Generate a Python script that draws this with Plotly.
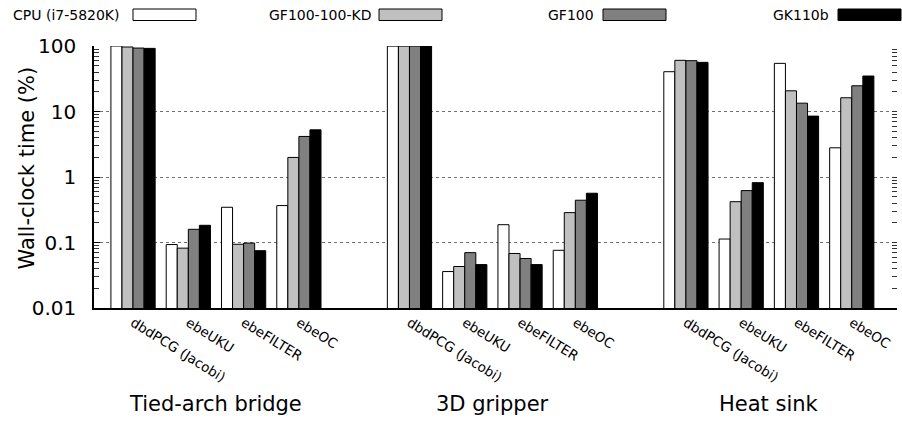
import plotly.graph_objects as go

# ---------------- data ----------------
groups = ["Tied-arch bridge", "3D gripper", "Heat sink"]
methods = ["dbdPCG (Jacobi)", "ebeUKU", "ebeFILTER", "ebeOC"]
series = ["CPU (i7-5820K)", "GF100-100-KD", "GF100", "GK110b"]
colors = ["#ffffff", "#c0c0c0", "#808080", "#000000"]

cpu   = [100.0, 0.093, 0.345, 0.366, 99.5, 0.036, 0.187, 0.076, 40.5, 0.113, 54.3, 2.79]
gf_kd = [96.5, 0.082, 0.094, 1.99, 99.5, 0.043, 0.068, 0.286, 60.4, 0.42, 20.7, 16.2]
gf100 = [93.0, 0.159, 0.098, 4.16, 99.5, 0.070, 0.057, 0.442, 59.7, 0.62, 13.4, 24.7]
gk110 = [92.0, 0.183, 0.075, 5.25, 100.0, 0.046, 0.046, 0.565, 56.3, 0.82, 8.5, 34.8]
values = [cpu, gf_kd, gf100, gk110]

ytick_vals = [0.01, 0.1, 1, 10, 100]
ytick_text = ["0.01", "0.1", "1", "10", "100"]

# ---------------- layout geometry ----------------
W, H = 902, 425
L, R, T, B = 94, 5, 46, 117
PW, PH = W - L - R, H - T - B
FONT = "DejaVu Sans"


def px(xp):
    return (xp - L) / PW


def py(yp):
    return (H - B - yp) / PH


# slot positions: groups separated by one empty slot
xpos = [g * (len(methods) + 1) + m for g in range(len(groups)) for m in range(len(methods))]
xlabels = [m for g in groups for m in methods]

fig = go.Figure()
for name, col, vals in zip(series, colors, values):
    fig.add_trace(go.Bar(
        x=xpos, y=vals, name=name,
        marker=dict(color=col, line=dict(color="#000000", width=1)),
        showlegend=False,
    ))

minor_vals = [m * 10 ** e for e in range(-2, 2) for m in range(2, 10)]

fig.update_layout(
    width=W, height=H,
    margin=dict(l=L, r=R, t=T, b=B, pad=0),
    paper_bgcolor="white", plot_bgcolor="white",
    barmode="group", bargap=0.2, bargroupgap=0,
    font=dict(family=FONT, color="#000000"),
    xaxis=dict(
        range=[-0.706, 13.818],
        tickmode="array", tickvals=xpos, ticktext=xlabels,
        tickangle=32, tickfont=dict(size=13.5, family=FONT),
        ticks="", showline=True, linecolor="#000000", linewidth=1.5,
        showgrid=False, zeroline=False,
    ),
    yaxis=dict(
        type="log", range=[-2, 2],
        tickmode="array", tickvals=ytick_vals, ticktext=ytick_text,
        ticks="inside", ticklen=6, tickcolor="#000000", tickwidth=1,
        tickfont=dict(size=20, family=FONT), ticklabelstandoff=12,
        showline=True, linecolor="#000000", linewidth=1.5,
        showgrid=True, gridcolor="#707070", griddash="dot", gridwidth=1,
        zeroline=False,
    ),
    yaxis2=dict(
        type="log", range=[-2, 2], overlaying="y", anchor="x", side="left",
        tickmode="array", tickvals=minor_vals, ticks="inside", ticklen=5,
        tickcolor="#333333", showticklabels=False, showgrid=False,
        showline=False, zeroline=False,
    ),
    yaxis3=dict(
        type="log", range=[-2, 2], overlaying="y", anchor="x", side="right",
        tickmode="array", tickvals=minor_vals + ytick_vals, ticks="inside", ticklen=5,
        tickcolor="#333333", showticklabels=False, showgrid=False,
        showline=False, zeroline=False,
    ),
)

# invisible traces so the overlay axes render
fig.add_trace(go.Scatter(x=[0], y=[1], yaxis="y2", mode="markers",
                         marker=dict(opacity=0), showlegend=False, hoverinfo="skip"))
fig.add_trace(go.Scatter(x=[0], y=[1], yaxis="y3", mode="markers",
                         marker=dict(opacity=0), showlegend=False, hoverinfo="skip"))

annotations = []
# y-axis title
annotations.append(dict(
    text="Wall-clock time (%)", xref="paper", yref="paper",
    x=px(26), y=py(168.5), textangle=-90, showarrow=False,
    xanchor="center", yanchor="middle", font=dict(size=21, family=FONT),
))
# group labels
for gi, g in enumerate(groups):
    annotations.append(dict(
        text=g, xref="x", yref="paper",
        x=gi * (len(methods) + 1) + (len(methods) - 1) / 2, y=py(404),
        showarrow=False, xanchor="center", yanchor="middle",
        font=dict(size=21, family=FONT),
    ))

# custom key: text then sample box
key_text_right = [121, 372, 595, 830]
key_box_left = [133, 379, 603, 838]
key_box_w = 63
shapes = []
for name, col, tr, bl in zip(series, colors, key_text_right, key_box_left):
    annotations.append(dict(
        text=name, xref="paper", yref="paper", x=px(tr), y=py(14.5),
        showarrow=False, xanchor="right", yanchor="middle",
        font=dict(size=14, family=FONT), borderpad=0,
    ))
    shapes.append(dict(
        type="rect", xref="paper", yref="paper",
        x0=px(bl), x1=px(bl + key_box_w), y0=py(20.5), y1=py(9),
        fillcolor=col, line=dict(color="#000000", width=1),
    ))

fig.update_layout(annotations=annotations, shapes=shapes)
fig.write_html("out.html")
